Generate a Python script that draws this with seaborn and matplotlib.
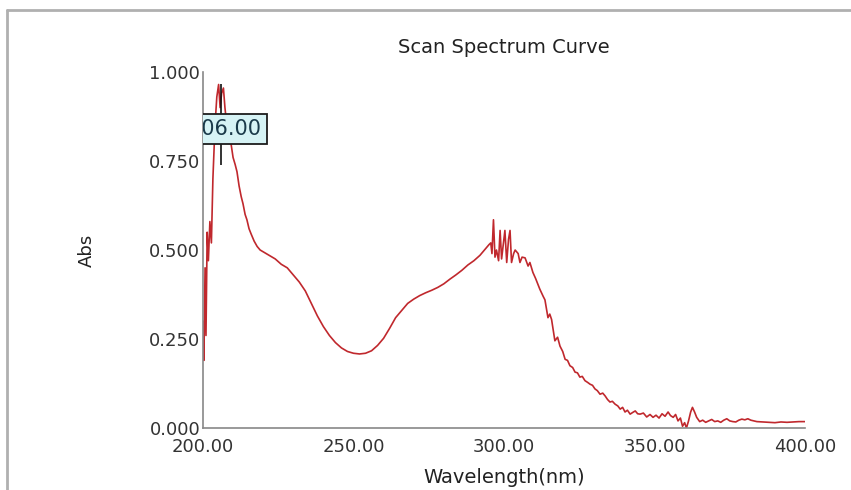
import matplotlib
matplotlib.use("Agg")
import matplotlib.pyplot as plt
from matplotlib.lines import Line2D
import seaborn as sns
import pandas as pd

# Scanned absorbance spectrum (wavelength in nm, absorbance)
wavelength = [
    200.0, 200.3, 200.7, 201.0, 201.4, 201.8, 202.3, 202.8, 203.3, 204.0,
    204.6, 205.2, 205.7, 206.2, 206.8, 207.3, 207.8, 208.5, 209.3, 210.0,
    210.7, 211.3, 212.0, 212.7, 213.3, 214.0, 214.6, 215.3, 216.0, 217.0,
    218.0, 219.0, 220.0, 221.0, 222.0, 224.0, 226.0, 228.0, 230.0, 232.0,
    234.0, 236.0, 238.0, 240.0, 242.0, 244.0, 246.0, 248.0, 250.0, 252.0,
    254.0, 256.0, 258.0, 260.0, 262.0, 264.0, 266.0, 268.0, 270.0, 272.0,
    274.0, 276.0, 278.0, 280.0, 282.0, 284.0, 286.0, 288.0, 290.0, 292.0,
    294.0, 295.0, 295.6, 296.0, 296.5, 297.0, 297.5, 298.2, 298.7, 299.2,
    300.3, 300.9, 301.5, 302.0, 302.5, 303.2, 303.7, 304.7, 305.3, 306.0,
    307.0, 308.0, 308.6, 309.6, 310.5, 311.9, 313.0, 313.6, 314.6, 315.2,
    315.8, 316.9, 317.8, 318.6, 319.5, 320.3, 321.1, 321.9, 322.8, 323.6,
    324.4, 325.2, 326.0, 326.9, 327.8, 328.6, 329.4, 330.2, 331.0, 331.9,
    332.8, 333.6, 334.4, 335.2, 336.0, 336.9, 337.8, 338.6, 339.4, 340.2,
    341.0, 341.9, 342.8, 343.6, 344.4, 345.2, 346.3, 347.4, 348.5, 349.5,
    350.5, 351.5, 352.5, 353.5, 354.5, 355.3, 356.2, 357.0, 357.8, 358.6,
    359.3, 360.0, 360.6, 361.3, 362.0, 362.6, 363.3, 364.0, 365.0, 366.0,
    367.0, 368.0, 369.0, 370.0, 371.0, 372.0, 373.0, 374.0, 375.0, 376.0,
    377.0, 378.0, 379.0, 380.0, 381.0, 382.0, 383.0, 384.0, 386.0, 388.0,
    390.0, 392.0, 394.0, 396.0, 398.0, 400.0,
]
absorbance = [
    0.300, 0.190, 0.450, 0.260, 0.550, 0.470, 0.580, 0.520, 0.700, 0.850,
    0.930, 0.965, 0.900, 0.940, 0.955, 0.900, 0.860, 0.820, 0.800, 0.760,
    0.740, 0.720, 0.680, 0.650, 0.630, 0.600, 0.585, 0.560, 0.545, 0.525,
    0.510, 0.500, 0.495, 0.490, 0.485, 0.475, 0.460, 0.450, 0.430, 0.410,
    0.385, 0.350, 0.315, 0.285, 0.260, 0.240, 0.225, 0.215, 0.210, 0.208,
    0.210, 0.217, 0.232, 0.252, 0.280, 0.310, 0.330, 0.350, 0.362, 0.372,
    0.380, 0.387, 0.395, 0.405, 0.418, 0.430, 0.443, 0.458, 0.470, 0.485,
    0.505, 0.515, 0.520, 0.490, 0.585, 0.480, 0.500, 0.470, 0.555, 0.475,
    0.555, 0.465, 0.530, 0.555, 0.465, 0.490, 0.500, 0.490, 0.465, 0.480,
    0.478, 0.455, 0.465, 0.437, 0.420, 0.390, 0.370, 0.360, 0.310, 0.320,
    0.305, 0.245, 0.255, 0.230, 0.215, 0.193, 0.190, 0.175, 0.170, 0.157,
    0.155, 0.143, 0.145, 0.133, 0.128, 0.123, 0.120, 0.110, 0.105, 0.095,
    0.098, 0.090, 0.080, 0.073, 0.075, 0.067, 0.062, 0.053, 0.058, 0.045,
    0.050, 0.039, 0.044, 0.048, 0.040, 0.039, 0.042, 0.031, 0.038, 0.030,
    0.036, 0.028, 0.040, 0.033, 0.045, 0.035, 0.030, 0.038, 0.020, 0.028,
    0.005, 0.015, 0.000, 0.020, 0.045, 0.058, 0.045, 0.030, 0.018, 0.022,
    0.016, 0.020, 0.024, 0.018, 0.020, 0.016, 0.022, 0.026, 0.020, 0.018,
    0.017, 0.022, 0.025, 0.023, 0.026, 0.022, 0.020, 0.018, 0.017, 0.016,
    0.015, 0.017, 0.016, 0.017, 0.018, 0.018,
]

x_ticks = [200, 250, 300, 350, 400]
x_tick_labels = ["200.00", "250.00", "300.00", "350.00", "400.00"]
y_ticks = [0.0, 0.25, 0.5, 0.75, 1.0]
y_tick_labels = ["0.000", "0.250", "0.500", "0.750", "1.000"]

peak_wavelength = 206.0
peak_label = "206.00"

df = pd.DataFrame({"Wavelength": wavelength, "Abs": absorbance})

sns.set_theme(style="white")
plt.rcParams["font.family"] = ["DejaVu Sans"]

fig = plt.figure(figsize=(8.51, 4.90), dpi=100)
ax = fig.add_axes([0.2385, 0.1265, 0.7075, 0.7265])

sns.lineplot(data=df, x="Wavelength", y="Abs", ax=ax, estimator=None,
             sort=False, color="#c0282d", linewidth=1.2)

# peak marker and its value box (the box is clipped by the axes edge)
ax.vlines(peak_wavelength, 0.74, 0.965, color="#111111", linewidth=1.2, zorder=3)
ax.text(219.6, 0.84, peak_label, ha="right", va="center", fontsize=15,
        color="#1a3a4a", clip_on=True, zorder=4,
        bbox=dict(boxstyle="square,pad=0.25", facecolor="#d6f3f5",
                  edgecolor="#1c1c1c", linewidth=1.3))

ax.set_xlim(200, 400)
ax.set_ylim(0, 1.0)
ax.set_xticks(x_ticks)
ax.set_xticklabels(x_tick_labels)
ax.set_yticks(y_ticks)
ax.set_yticklabels(y_tick_labels)
ax.tick_params(axis="both", direction="in", length=10, width=1.2,
               color="#222222", labelsize=13, labelcolor="#333333")
ax.tick_params(axis="x", length=8, pad=7)
ax.tick_params(axis="y", pad=2)

for side in ["top", "right"]:
    ax.spines[side].set_visible(False)
for side in ["left", "bottom"]:
    ax.spines[side].set_color("#888888")
    ax.spines[side].set_linewidth(1.2)

ax.set_title("Scan Spectrum Curve", fontsize=14, color="#222222", pad=14)
ax.set_xlabel("Wavelength(nm)", fontsize=14, color="#222222", labelpad=9)
ax.set_ylabel("Abs", fontsize=13, color="#222222", labelpad=38)

# outer panel frame (top and left edges)
fig.add_artist(Line2D([7 / 851, 7 / 851], [0, 1 - 10 / 490],
                      color="#b0b0b0", linewidth=2, transform=fig.transFigure))
fig.add_artist(Line2D([7 / 851, 1], [1 - 10 / 490, 1 - 10 / 490],
                      color="#b0b0b0", linewidth=2, transform=fig.transFigure))

fig.savefig("out.png", dpi=100, facecolor="white")
